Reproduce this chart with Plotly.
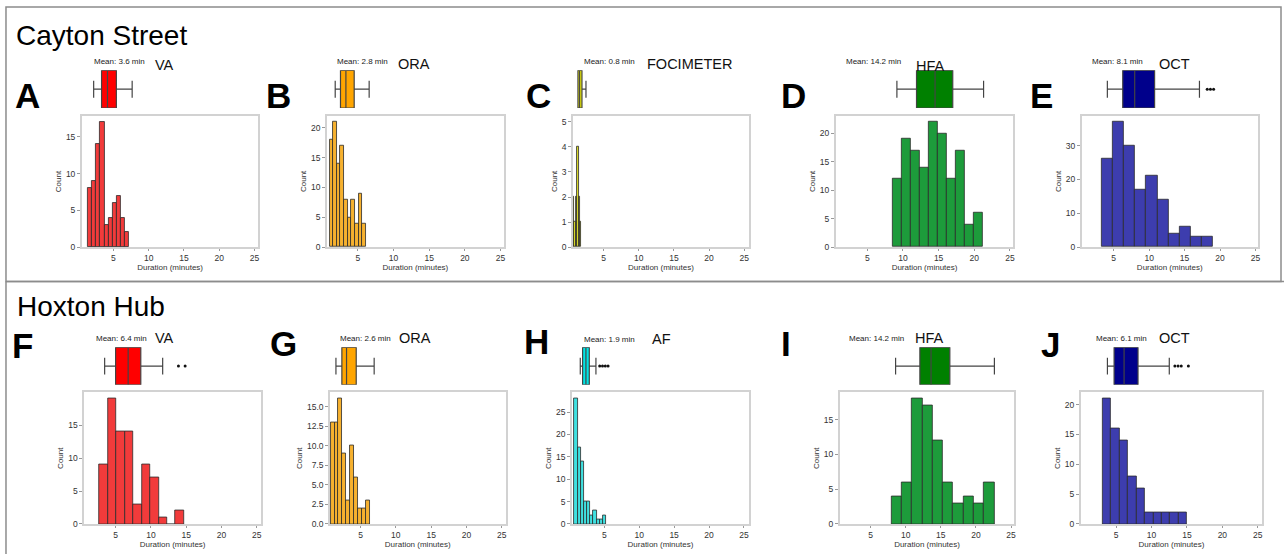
import plotly.graph_objects as go

W, H = 1287, 559

# ---------------- data ----------------
site_titles = ["Cayton Street", "Hoxton Hub"]
panel_letters = ["A", "B", "C", "D", "E", "F", "G", "H", "I", "J"]
test_names = ["VA", "ORA", "FOCIMETER", "HFA", "OCT", "VA", "ORA", "AF", "HFA", "OCT"]
mean_minutes = [3.6, 2.8, 0.8, 14.2, 8.1, 6.4, 2.6, 1.9, 14.2, 6.1]

# histogram bins (minutes) and counts
bin_start = [1.40, 1.02, 0.65, 8.54, 3.36, 2.70, 0.76, 0.71, 7.94, 3.12]
bin_width = [0.58, 0.51, 0.20, 1.264, 1.558, 1.20, 0.556, 0.457, 1.47, 1.19]
counts_A = [8, 9, 14, 17, 3, 4, 6, 7, 4, 2]
counts_B = [18, 21, 14, 17, 8, 5, 8, 4, 9, 4]
counts_C = [2, 1, 2, 4, 2, 1]
counts_D = [12, 19, 17, 14, 22, 20, 12, 17, 4, 6]
counts_E = [26, 37, 30, 17, 21, 14, 4, 6, 3, 3]
counts_F = [9, 19, 14, 14, 3, 9, 7, 1, 0, 2]
counts_G = [13, 13, 16, 9, 3, 10, 6, 2, 2, 3]
counts_H = [28, 17, 14, 5, 5, 2, 3, 1, 1, 2]
counts_I = [4, 6, 18, 17, 12, 6, 3, 4, 3, 6]
counts_J = [21, 16, 14, 8, 6, 2, 2, 2, 2, 2]
all_counts = [counts_A, counts_B, counts_C, counts_D, counts_E,
              counts_F, counts_G, counts_H, counts_I, counts_J]

# box plot statistics (minutes)
box_low = [2.20, 1.82, 1.36, 9.15, 4.10, 3.45, 1.52, 1.57, 8.55, 3.78]
box_q1 = [3.32, 2.56, 1.36, 11.90, 6.27, 5.00, 2.36, 1.90, 12.01, 4.72]
box_median = [4.16, 3.32, 1.60, 14.50, 7.96, 6.78, 3.02, 2.38, 13.60, 6.13]
box_q3 = [5.42, 4.48, 1.93, 16.98, 10.77, 8.57, 4.39, 2.86, 16.28, 8.10]
box_high = [7.66, 6.58, 2.50, 21.30, 17.10, 11.67, 6.93, 3.81, 22.63, 12.51]
outliers = [[], [], [], [], [18.2, 18.65, 19.1], [13.9, 14.85], [],
            [4.35, 4.75, 5.15, 5.55], [], [13.3, 13.75, 14.2, 15.2]]

# ---------------- styling / layout config ----------------
hist_color = {"VA": "#f23b3b", "ORA": "#f6b12f", "FOCIMETER": "#dede2c",
              "HFA": "#1d9b3b", "OCT": "#3d3dae", "AF": "#40e0e0"}
box_color = {"VA": "#ff0000", "ORA": "#ffa500", "FOCIMETER": "#f0f000",
             "HFA": "#008000", "OCT": "#00008b", "AF": "#00e5e5"}

# panel frames in pixels: left, right, top, bottom ; x range ; y top ; y dtick
frames = [
    (82.0, 259.0, 117.0, 249.3, [0.52, 25.56], 17.85, 5),
    (327.7, 505.0, 116.7, 249.3, [0.66, 25.46], 22.05, 5),
    (574.3, 750.7, 116.7, 249.3, [0.65, 25.67], 5.25, 1),
    (837.7, 1015.7, 116.7, 249.3, [0.58, 25.47], 23.1, 5),
    (1084.3, 1260.7, 116.7, 249.3, [0.49, 25.33], 38.85, 10),
    (84.3, 261.7, 396.0, 528.7, [0.54, 25.61], 19.95, 5),
    (330.7, 506.7, 396.0, 528.7, [0.67, 25.52], 16.8, 2.5),
    (573.3, 750.7, 396.0, 528.7, [0.38, 25.71], 29.4, 5),
    (841.7, 1016.7, 396.0, 528.7, [0.59, 25.47], 18.9, 5),
    (1083.3, 1265.0, 396.0, 528.7, [0.02, 25.60], 22.05, 5),
]
box_rows = [(71.0, 109.0), (350.5, 388.3)]

letter_pos = [(13, 96), (264.5, 96), (525, 96), (780.5, 96), (1030.5, 96),
              (10.5, 349), (268.5, 347), (523.5, 345), (781, 347), (1041, 348)]
mean_pos = [(92, 62), (336, 62), (583, 62), (846, 62), (1093, 62),
            (94, 342), (339, 342), (583, 343), (849, 342), (1097, 342)]
name_pos = [(153, 66), (397, 65), (647, 65), (916, 67), (1160, 65),
            (153, 341), (398, 341), (652, 342), (915, 341), (1160, 341)]
site_pos = [(14, 36), (15, 309)]

SANS = "Liberation Sans, Arial, sans-serif"


def px(x):
    return x / W


def py(y):
    return 1 - y / H


fig = go.Figure()
lay = {}
for i in range(10):
    l, r, t, b, xr, ytop, dty = frames[i]
    name = test_names[i]
    hx, bx = 2 * i + 1, 2 * i + 2
    xh = "x" if hx == 1 else f"x{hx}"
    yh = "y" if hx == 1 else f"y{hx}"
    xb, yb = f"x{bx}", f"y{bx}"
    counts = all_counts[i]
    centers = [bin_start[i] + bin_width[i] * (k + 0.5) for k in range(len(counts))]
    fig.add_trace(go.Bar(
        x=centers, y=counts, width=bin_width[i],
        marker=dict(color=hist_color[name], line=dict(color="#2b2b2b", width=0.8)),
        xaxis=xh, yaxis=yh, showlegend=False, hoverinfo="x+y"))
    fig.add_trace(go.Box(
        orientation="h", y=[0], q1=[box_q1[i]], median=[box_median[i]],
        q3=[box_q3[i]], lowerfence=[box_low[i]], upperfence=[box_high[i]],
        width=1.0, whiskerwidth=0.45, fillcolor=box_color[name],
        line=dict(color="#444444", width=1.2), boxpoints=False,
        xaxis=xb, yaxis=yb, showlegend=False, hoverinfo="skip"))
    if outliers[i]:
        fig.add_trace(go.Scatter(
            x=outliers[i], y=[0] * len(outliers[i]), mode="markers",
            marker=dict(color="#111111", size=3), xaxis=xb, yaxis=yb,
            showlegend=False, hoverinfo="x"))
    bt, bb = box_rows[0] if i < 5 else box_rows[1]
    xkey = "xaxis" if hx == 1 else f"xaxis{hx}"
    ykey = "yaxis" if hx == 1 else f"yaxis{hx}"
    lay[xkey] = dict(
        domain=[px(l), px(r)], range=xr, anchor=yh, tickvals=[5, 10, 15, 20, 25],
        showline=True, mirror=True, linecolor="#d2d2d2", linewidth=1.5,
        ticks="outside", ticklen=2, tickcolor="#999999",
        tickfont=dict(size=8.5, color="#333333", family=SANS),
        title=dict(text="Duration (minutes)", standoff=1,
                   font=dict(size=8, color="#333333", family=SANS)),
        showgrid=False, zeroline=False)
    lay[ykey] = dict(
        domain=[py(b), py(t)], range=[0, ytop], anchor=xh, dtick=dty,
        tickformat=".1f" if dty == 2.5 else "d",
        showline=True, mirror=True, linecolor="#d2d2d2", linewidth=1.5,
        ticks="outside", ticklen=3, tickcolor="#999999",
        tickfont=dict(size=8.5, color="#333333", family=SANS),
        title=dict(text="Count", standoff=3,
                   font=dict(size=8, color="#333333", family=SANS)),
        showgrid=False, zeroline=False)
    lay[f"xaxis{bx}"] = dict(domain=[px(l), px(r)], range=xr, anchor=yb,
                             visible=False, showgrid=False)
    lay[f"yaxis{bx}"] = dict(domain=[py(bb), py(bt)], range=[-0.5, 0.5],
                             anchor=xb, visible=False, showgrid=False)

annotations = []
for k, title in enumerate(site_titles):
    x, y = site_pos[k]
    annotations.append(dict(text=title, x=px(x), y=py(y), xref="paper", yref="paper",
                            xanchor="left", yanchor="middle", showarrow=False,
                            font=dict(size=28, color="#000000", family=SANS)))
for i in range(10):
    x, y = letter_pos[i]
    annotations.append(dict(text=f"<b>{panel_letters[i]}</b>", x=px(x), y=py(y),
                            xref="paper", yref="paper", xanchor="left", yanchor="middle",
                            showarrow=False,
                            font=dict(size=35, color="#000000", family=SANS)))
    x, y = mean_pos[i]
    annotations.append(dict(text=f"Mean: {mean_minutes[i]} min", x=px(x), y=py(y),
                            xref="paper", yref="paper", xanchor="left", yanchor="middle",
                            showarrow=False,
                            font=dict(size=8, color="#222222", family=SANS)))
    x, y = name_pos[i]
    annotations.append(dict(text=test_names[i], x=px(x), y=py(y),
                            xref="paper", yref="paper", xanchor="left", yanchor="middle",
                            showarrow=False,
                            font=dict(size=14.5, color="#111111", family=SANS)))

shapes = [
    dict(type="rect", xref="paper", yref="paper", x0=px(6), x1=px(1284),
         y0=py(284), y1=py(7), line=dict(color="#8c8c8c", width=1.5)),
    dict(type="line", xref="paper", yref="paper", x0=px(6), x1=1.0,
         y0=py(284), y1=py(284), line=dict(color="#8c8c8c", width=1.5)),
    dict(type="line", xref="paper", yref="paper", x0=px(6), x1=px(6),
         y0=py(284), y1=0.0, line=dict(color="#8c8c8c", width=1.5)),
]

fig.update_layout(
    width=W, height=H, margin=dict(l=0, r=0, t=0, b=0),
    paper_bgcolor="white", plot_bgcolor="white", showlegend=False,
    bargap=0, annotations=annotations, shapes=shapes,
    font=dict(family=SANS), **lay)

fig.write_html("out.html", config={"displayModeBar": False},
               post_script="document.body.style.margin='0';document.body.style.overflow='hidden';")
